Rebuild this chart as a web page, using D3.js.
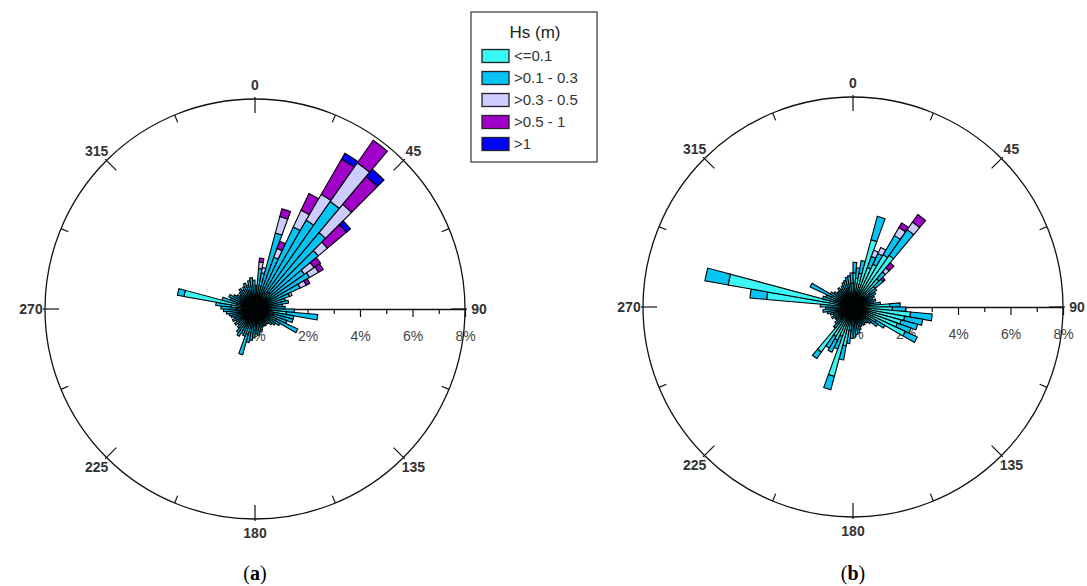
<!DOCTYPE html>
<html lang="en">
<head>
<meta charset="utf-8">
<script src="https://d3js.org/d3.v7.min.js"></script>
<style>
  body { margin: 0; background: #fff; }
  svg text { font-family: "Liberation Sans", Arial, sans-serif; }
</style>
</head>
<body>
<svg id="chart" width="1087" height="586"></svg>
<script>
// Hs classes and their fill colours
const classes = ["<=0.1", ">0.1 - 0.3", ">0.3 - 0.5", ">0.5 - 1", ">1"];
const colors = ["#3cf5f5", "#05c3f2", "#ccccff", "#a000c8", "#0000ff"];
// direction bins, centres of 5 degree sectors (2.5, 7.5, ... 357.5)
const directions = d3.range(2.5, 360, 5);
const compassLabels = [0, 45, 90, 135, 180, 225, 270, 315];
const pctMajor = [0, 2, 4, 6, 8];
const pctMinor = [1, 3, 5, 7];

// (a) frequency in % per direction bin, one array per Hs class
const a_c1 = [0.3, 0.4, 0.4, 0.5, 0.5, 0.6, 0.7, 0.8, 0.8, 0.6, 0.5, 0.5,
              0.4, 0.4, 0.4, 0.5, 0.45, 0.45, 0.5, 1.2, 0.7, 0.7, 0.6, 0.9,
              0.5, 0.45, 0.45, 0.45, 0.4, 0.45, 0.4, 0.45, 0.45, 0.5, 0.5, 0.55,
              0.6, 0.6, 0.7, 1.0, 0.6, 0.55, 0.6, 0.6, 0.55, 0.45, 0.55, 0.45,
              0.55, 0.45, 0.55, 0.6, 0.6, 0.7, 0.7, 0.9, 2.75, 0.7, 0.6, 0.6,
              0.55, 0.45, 0.45, 0.45, 0.55, 0.45, 0.55, 0.55, 0.55, 0.6, 0.6, 0.5];
const a_c2 = [0.6, 1.15, 1.0, 2.5, 1.6, 2.85, 3.2, 4.2, 3.0, 2.55, 1.8, 1.9,
              1.5, 1.0, 0.8, 0.8, 0.6, 0.7, 1.0, 1.2, 0.8, 0.8, 0.7, 0.9,
              0.6, 0.5, 0.4, 0.3, 0.3, 0.3, 0.3, 0.3, 0.4, 0.4, 0.5, 0.4,
              0.5, 0.6, 0.6, 0.8, 0.5, 0.5, 0.6, 0.5, 0.4, 0.4, 0.4, 0.4,
              0.4, 0.4, 0.4, 0.4, 0.5, 0.5, 0.6, 0.6, 0.25, 0.6, 0.4, 0.5,
              0.4, 0.4, 0.3, 0.4, 0.4, 0.4, 0.4, 0.5, 0.4, 0.5, 0.6, 0.6];
const a_c3 = [0, 0.25, 0.2, 0.65, 0.35, 0.7, 1.15, 1.8, 1.4, 0.45, 0.45, 0.4,
              0.25, 0.1, 0, 0, 0, 0, 0, 0, 0, 0, 0, 0,
              0, 0, 0, 0, 0, 0, 0, 0, 0, 0, 0, 0,
              0, 0, 0, 0, 0, 0, 0, 0, 0, 0, 0, 0,
              0, 0, 0, 0, 0, 0, 0, 0, 0, 0, 0, 0,
              0, 0, 0, 0, 0, 0, 0, 0, 0, 0, 0, 0];
const a_c4 = [0, 0.15, 0, 0.3, 0.3, 0.7, 1.55, 1.05, 1.4, 0.95, 0.3, 0.2,
              0.15, 0, 0, 0, 0, 0, 0, 0, 0, 0, 0, 0,
              0, 0, 0, 0, 0, 0, 0, 0, 0, 0, 0, 0,
              0, 0, 0, 0, 0, 0, 0, 0, 0, 0, 0, 0,
              0, 0, 0, 0, 0, 0, 0, 0, 0, 0, 0, 0,
              0, 0, 0, 0, 0, 0, 0, 0, 0, 0, 0, 0];
const a_c5 = [0, 0, 0, 0, 0, 0, 0.25, 0, 0.35, 0.2, 0, 0,
              0, 0, 0, 0, 0, 0, 0, 0, 0, 0, 0, 0,
              0, 0, 0, 0, 0, 0, 0, 0, 0, 0, 0, 0,
              0, 0, 0, 0, 0, 0, 0, 0, 0, 0, 0, 0,
              0, 0, 0, 0, 0, 0, 0, 0, 0, 0, 0, 0,
              0, 0, 0, 0, 0, 0, 0, 0, 0, 0, 0, 0];

// (b)
const b_c1 = [1.3, 1.1, 1.3, 2.65, 1.6, 1.8, 2.3, 2.4, 1.4, 1.1, 0.8, 0.7,
              0.6, 0.5, 0.6, 0.5, 0.65, 1.4, 1.5, 2.2, 2.0, 1.9, 1.8, 2.2,
              1.0, 0.75, 0.6, 0.5, 0.45, 0.5, 0.45, 0.5, 0.6, 0.6, 0.65, 0.75,
              0.7, 0.9, 1.5, 2.74, 1.2, 1.4, 1.3, 2.1, 0.65, 0.6, 0.5, 0.5,
              0.6, 0.5, 0.6, 0.6, 0.65, 0.65, 0.75, 3.3, 4.83, 0.7, 0.6, 0.9,
              0.6, 0.6, 0.5, 0.5, 0.6, 0.5, 0.6, 0.6, 0.65, 0.75, 0.8, 0.9];
const b_c2 = [0.4, 0.4, 0.5, 0.93, 0.45, 0.45, 0.85, 1.2, 0.35, 0.4, 0.3, 0.3,
              0.3, 0.3, 0.3, 0.3, 0.4, 0.4, 0.5, 0.83, 0.7, 0.65, 0.55, 0.5,
              0.4, 0.4, 0.3, 0.3, 0.3, 0.3, 0.3, 0.3, 0.3, 0.4, 0.4, 0.4,
              0.5, 0.5, 0.55, 0.52, 0.5, 0.5, 0.5, 0.3, 0.4, 0.3, 0.3, 0.3,
              0.3, 0.3, 0.3, 0.4, 0.5, 0.4, 0.5, 0.64, 0.9, 0.5, 0.5, 0.9,
              0.4, 0.3, 0.3, 0.3, 0.3, 0.3, 0.3, 0.4, 0.4, 0.4, 0.4, 0.4];
const b_c3 = [0, 0, 0, 0, 0.25, 0.25, 0.35, 0.35, 0.2, 0, 0, 0,
              0, 0, 0, 0, 0, 0, 0, 0, 0, 0, 0, 0,
              0, 0, 0, 0, 0, 0, 0, 0, 0, 0, 0, 0,
              0, 0, 0, 0, 0, 0, 0, 0, 0, 0, 0, 0,
              0, 0, 0, 0, 0, 0, 0, 0, 0, 0, 0, 0,
              0, 0, 0, 0, 0, 0, 0, 0, 0, 0, 0, 0];
const b_c4 = [0, 0, 0, 0, 0, 0, 0.2, 0.35, 0.25, 0.1, 0, 0,
              0, 0, 0, 0, 0, 0, 0, 0, 0, 0, 0, 0,
              0, 0, 0, 0, 0, 0, 0, 0, 0, 0, 0, 0,
              0, 0, 0, 0, 0, 0, 0, 0, 0, 0, 0, 0,
              0, 0, 0, 0, 0, 0, 0, 0, 0, 0, 0, 0,
              0, 0, 0, 0, 0, 0, 0, 0, 0, 0, 0, 0];
const b_c5 = new Array(72).fill(0);

const svg = d3.select("#chart");
const R = 210;
const r = d3.scaleLinear().domain([0, 8]).range([0, R]);
const rad = d => d * Math.PI / 180;

function drawRose(cx, cy, series, tag) {
  const g = svg.append("g").attr("transform", "translate(" + cx + "," + cy + ")");

  g.append("circle")
    .attr("r", R)
    .attr("fill", "none")
    .attr("stroke", "#111")
    .attr("stroke-width", 1.3);

  // little ticks round the circle every 22.5 degrees
  const ticks = d3.range(0, 360, 22.5);
  const inLen = d => d % 45 === 0 ? 14 : 8;
  const outLen = d => d % 45 === 0 ? 2 : 0;
  g.selectAll("line.ring")
    .data(ticks)
    .join("line")
    .attr("class", "ring")
    .attr("x1", d => Math.sin(rad(d)) * (R - inLen(d)))
    .attr("y1", d => -Math.cos(rad(d)) * (R - inLen(d)))
    .attr("x2", d => Math.sin(rad(d)) * (R + outLen(d)))
    .attr("y2", d => -Math.cos(rad(d)) * (R + outLen(d)))
    .attr("stroke", "#111")
    .attr("stroke-width", 1.2);

  g.selectAll("text.deg")
    .data(compassLabels)
    .join("text")
    .attr("class", "deg")
    .attr("x", d => Math.sin(rad(d)) * 224)
    .attr("y", d => -Math.cos(rad(d)) * 224)
    .attr("dy", "0.35em")
    .attr("text-anchor", "middle")
    .attr("font-size", 14)
    .attr("font-weight", "bold")
    .attr("fill", "#333")
    .text(d => d);

  // radial % axis along 90 degrees
  const minor = g.append("g")
    .call(d3.axisBottom(r).tickValues(pctMinor).tickSize(5).tickFormat("").tickSizeOuter(0));
  const major = g.append("g")
    .call(d3.axisBottom(r).tickValues(pctMajor).tickSize(8).tickPadding(14)
      .tickFormat(d => d + "%").tickSizeOuter(0));
  major.select(".domain").remove();
  [minor, major].forEach(a => {
    a.selectAll("line").attr("stroke", "#111").attr("stroke-width", 1.2);
    a.select(".domain").attr("stroke", "#111").attr("stroke-width", 1.3);
  });
  major.selectAll("text")
    .attr("font-family", "Liberation Sans, Arial, sans-serif")
    .attr("font-size", 14)
    .attr("fill", "#444");

  // stacked sectors
  const segs = [];
  directions.forEach((dir, i) => {
    let base = 0;
    series.forEach((s, j) => {
      const v = s[i];
      if (v > 0) {
        segs.push({dir: dir, cls: j, r0: base, r1: base + v});
        base += v;
      }
    });
  });
  const arc = d3.arc()
    .innerRadius(d => r(d.r0))
    .outerRadius(d => r(d.r1))
    .startAngle(d => rad(d.dir - 2.5))
    .endAngle(d => rad(d.dir + 2.5));
  g.selectAll("path.seg")
    .data(segs)
    .join("path")
    .attr("class", "seg")
    .attr("d", arc)
    .attr("fill", d => colors[d.cls])
    .attr("stroke", "#000")
    .attr("stroke-width", 1.1);

  const lab = svg.append("text")
    .attr("x", cx)
    .attr("y", 580)
    .attr("text-anchor", "middle")
    .style("font-family", "'Liberation Serif', 'Times New Roman', serif")
    .attr("font-size", 20);
  lab.append("tspan").text("(");
  lab.append("tspan").attr("font-weight", "bold").text(tag);
  lab.append("tspan").text(")");
}

drawRose(255, 309, [a_c1, a_c2, a_c3, a_c4, a_c5], "a");
drawRose(853, 307, [b_c1, b_c2, b_c3, b_c4, b_c5], "b");

// legend
const leg = svg.append("g").attr("transform", "translate(471,12)");
leg.append("rect")
  .attr("width", 126)
  .attr("height", 150)
  .attr("fill", "#fff")
  .attr("stroke", "#333")
  .attr("stroke-width", 1.2);
leg.append("text")
  .attr("x", 64)
  .attr("y", 20)
  .attr("dy", "0.35em")
  .attr("text-anchor", "middle")
  .attr("font-size", 17)
  .attr("fill", "#222")
  .text("Hs (m)");
const item = leg.selectAll("g.item")
  .data(classes)
  .join("g")
  .attr("class", "item")
  .attr("transform", (d, i) => "translate(0," + (44 + i * 22) + ")");
item.append("rect")
  .attr("x", 11)
  .attr("y", -6.5)
  .attr("width", 27)
  .attr("height", 13)
  .attr("fill", (d, i) => colors[i])
  .attr("stroke", "#222")
  .attr("stroke-width", 1.3);
item.append("text")
  .attr("x", 43)
  .attr("dy", "0.35em")
  .attr("font-size", 15)
  .attr("fill", "#333")
  .text(d => d);
</script>
</body>
</html>
